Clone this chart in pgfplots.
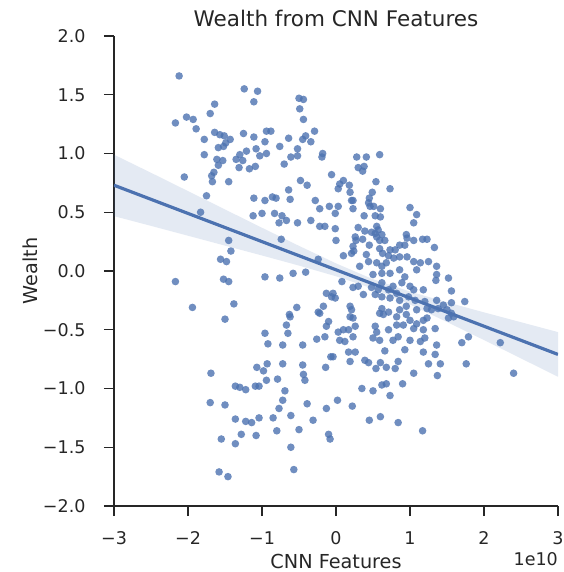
\documentclass[border=0pt]{standalone}
\usepackage{pgfplots}
\pgfplotsset{compat=1.18}
\usepackage{fontspec}
\setmainfont{DejaVu Sans}
\definecolor{sbblue}{HTML}{4C72B0}
\definecolor{sbtext}{HTML}{262626}
\pgfplotstableread{
x y
-2.12 1.66
-1.24 1.55
-1.06 1.53
-1.11 1.44
-1.64 1.42
-1.70 1.34
-2.02 1.31
-1.93 1.29
-2.17 1.26
-1.89 1.21
-0.50 1.47
-0.44 1.46
-0.49 1.38
-0.44 1.29
-1.64 1.18
-1.57 1.16
-1.51 1.15
-1.78 1.12
-1.43 1.12
-1.25 1.17
-1.11 1.14
-0.94 1.19
-0.88 1.19
-0.96 1.10
-0.64 1.13
-0.41 1.15
-0.29 1.19
-0.45 1.12
-0.34 1.10
-1.59 1.05
-1.52 1.06
-1.49 1.09
-1.78 0.99
-1.21 1.02
-1.08 1.04
-1.30 0.99
-1.03 0.98
-0.94 1.00
-0.76 1.06
-0.52 1.04
-0.52 0.98
-0.61 0.97
-1.61 0.95
-1.53 0.94
-1.35 0.95
-1.26 0.94
-1.59 0.90
-1.31 0.88
-1.17 0.87
-1.09 0.89
-0.70 0.91
-1.65 0.84
-1.68 0.81
-2.05 0.80
-1.67 0.76
-1.45 0.76
-0.48 0.77
-0.39 0.73
-1.75 0.64
-1.11 0.62
-0.96 0.60
-0.86 0.63
-0.81 0.62
-0.64 0.69
-0.62 0.61
-0.28 0.60
-1.83 0.50
-1.45 0.26
-1.42 0.17
-1.56 0.10
-1.48 0.08
-2.17 -0.09
-1.52 -0.07
-1.45 -0.09
-1.94 -0.31
-1.38 -0.28
-1.50 -0.41
-0.96 -0.05
-0.76 -0.06
-0.58 -0.02
-0.41 -0.01
-0.74 0.27
-1.12 0.47
-1.00 0.49
-0.83 0.49
-0.73 0.47
-0.77 0.41
-0.67 0.43
-0.52 0.41
-0.34 0.43
-0.24 0.10
-0.53 -0.31
-0.63 -0.37
-0.62 -0.39
-0.67 -0.46
-0.65 -0.53
-0.96 -0.53
-0.92 -0.62
-0.72 -0.63
-0.45 -0.63
-1.69 -0.87
-1.07 -0.82
-0.98 -0.85
-0.93 -0.79
-0.72 -0.79
-0.45 -0.80
-0.44 -0.88
-0.42 -0.93
-0.94 -0.93
-0.79 -0.92
-1.36 -0.98
-1.30 -0.99
-1.22 -1.01
-1.09 -0.98
-1.04 -0.98
-0.69 -1.02
-1.70 -1.12
-1.50 -1.14
-0.72 -1.10
-0.77 -1.17
-0.39 -1.13
-1.36 -1.26
-1.22 -1.28
-1.14 -1.29
-1.04 -1.25
-0.85 -1.25
-0.61 -1.23
-0.31 -1.27
-0.50 -1.35
-0.80 -1.36
-1.55 -1.43
-1.28 -1.39
-1.08 -1.40
-1.36 -1.47
-0.61 -1.50
-0.57 -1.69
-1.58 -1.71
-1.46 -1.75
-0.18 1.00
-0.19 0.97
0.28 0.97
0.41 0.97
0.59 0.99
0.30 0.88
0.38 0.89
0.36 0.85
-0.06 0.82
0.10 0.77
0.05 0.74
0.03 0.70
0.18 0.73
0.19 0.67
0.54 0.76
0.73 0.70
0.49 0.67
0.23 0.60
0.21 0.60
0.45 0.62
0.44 0.58
-0.22 0.53
-0.09 0.55
0.03 0.55
-0.01 0.49
0.23 0.53
0.46 0.55
0.51 0.55
0.60 0.53
1.00 0.54
0.38 0.47
0.53 0.47
0.60 0.46
1.09 0.48
1.05 0.41
-0.22 0.38
-0.15 0.38
-0.01 0.36
0.30 0.37
0.39 0.34
0.55 0.38
0.57 0.35
0.53 0.32
0.48 0.33
0.62 0.31
0.95 0.31
0.96 0.28
1.17 0.27
1.23 0.27
0.00 0.26
0.26 0.29
0.27 0.26
0.36 0.27
0.55 0.29
0.66 0.26
0.59 0.26
0.86 0.22
0.93 0.22
0.80 0.18
1.05 0.26
1.33 0.20
0.23 0.21
0.45 0.22
0.21 0.15
0.24 0.17
0.10 0.13
0.59 0.19
0.63 0.15
0.73 0.18
0.71 0.13
0.78 0.11
0.86 0.12
0.96 0.12
0.41 0.14
0.44 0.08
0.32 0.04
0.55 0.07
0.62 0.04
0.68 0.07
1.05 0.08
1.14 0.07
1.25 0.08
1.36 0.04
0.50 -0.03
0.62 -0.02
0.73 -0.02
0.86 0.01
0.93 -0.05
1.09 0.01
1.36 -0.03
1.35 -0.08
1.52 -0.06
0.08 -0.09
0.23 -0.14
0.30 -0.13
0.48 -0.14
0.57 -0.16
0.62 -0.10
0.71 -0.16
0.77 -0.13
0.89 -0.10
1.00 -0.13
1.05 -0.16
1.18 -0.16
1.56 -0.17
-0.13 -0.19
-0.04 -0.19
-0.01 -0.23
-0.06 -0.22
0.37 -0.20
0.53 -0.20
0.62 -0.22
0.73 -0.23
0.82 -0.19
0.86 -0.25
0.98 -0.22
1.07 -0.25
1.20 -0.26
1.36 -0.25
1.45 -0.29
1.56 -0.27
1.74 -0.26
-0.17 -0.30
0.19 -0.30
0.21 -0.33
0.62 -0.32
0.71 -0.35
0.86 -0.33
0.95 -0.30
1.09 -0.33
1.23 -0.32
1.29 -0.33
1.38 -0.32
1.50 -0.33
1.56 -0.36
-0.24 -0.35
-0.22 -0.36
-0.10 -0.43
0.19 -0.39
0.23 -0.40
0.59 -0.36
0.64 -0.37
0.82 -0.39
0.95 -0.37
1.00 -0.42
1.09 -0.45
1.18 -0.42
1.23 -0.40
1.52 -0.40
1.59 -0.39
-0.13 -0.47
0.03 -0.52
0.10 -0.50
0.17 -0.50
0.26 -0.47
0.53 -0.47
0.55 -0.52
0.71 -0.50
0.82 -0.46
0.91 -0.46
1.05 -0.49
1.18 -0.50
1.34 -0.49
-0.26 -0.58
-0.15 -0.56
0.05 -0.59
0.12 -0.60
0.23 -0.56
0.50 -0.57
0.59 -0.59
0.77 -0.59
0.84 -0.56
1.00 -0.59
1.14 -0.60
1.20 -0.57
1.36 -0.63
1.70 -0.61
1.79 -0.56
2.22 -0.61
1.34 -0.71
-0.07 -0.73
-0.04 -0.73
0.17 -0.69
0.26 -0.69
0.66 -0.68
0.93 -0.67
1.18 -0.69
-0.14 -0.82
0.19 -0.77
0.39 -0.76
0.44 -0.78
0.54 -0.83
0.60 -0.78
0.68 -0.82
0.80 -0.83
0.84 -0.77
1.05 -0.87
1.25 -0.79
1.41 -0.79
1.37 -0.89
1.76 -0.79
2.40 -0.87
0.35 -1.00
0.50 -1.02
0.62 -0.97
0.68 -0.96
0.90 -0.96
0.73 -1.06
-0.13 -1.17
0.02 -1.10
0.22 -1.15
0.45 -1.27
0.60 -1.24
0.84 -1.29
1.17 -1.36
-0.10 -1.39
-0.08 -1.43
}\pts
\begin{document}
\begin{tikzpicture}
\begin{axis}[
  at={(0,0)}, anchor=south west,
  width=444pt, height=470pt, scale only axis,
  xmin=-3, xmax=3, ymin=-2, ymax=2,
  axis x line*=bottom, axis y line*=left,
  axis line style={sbtext, line width=1.5pt},
  tick align=outside, major tick length=10pt,
  tick style={sbtext, line width=1.3pt},
  xtick={-3,-2,-1,0,1,2,3},
  xticklabels={−3,−2,−1,0,1,2,3},
  ytick={-2,-1.5,-1,-0.5,0,0.5,1,1.5,2},
  yticklabels={−2.0,−1.5,−1.0,−0.5,0.0,0.5,1.0,1.5,2.0},
  ticklabel style={font=\fontsize{17.5}{20}\selectfont, text=sbtext},
  xticklabel style={yshift=-12pt},
  yticklabel style={xshift=-15pt},
  title={Wealth from CNN Features},
  title style={font=\fontsize{21.5}{24}\selectfont, text=sbtext, at={(axis description cs:0.5,1)}, anchor=base, yshift=3pt},
  xlabel={CNN Features}, ylabel={Wealth},
  every axis x label/.style={at={(axis description cs:0.5,0)}, anchor=base, yshift=-62pt, font=\fontsize{19.25}{22}\selectfont, text=sbtext},
  every axis y label/.style={at={(axis description cs:-0.189,0.5)}, anchor=center, rotate=90, font=\fontsize{19.25}{22}\selectfont, text=sbtext},
]
\addplot[only marks, color=sbblue, mark=*, mark size=3.8pt, mark options={draw opacity=0, fill=sbblue, fill opacity=0.8}] table[x=x, y=y] {\pts};
\addplot[draw=none, fill=sbblue, fill opacity=0.15] coordinates {
(-3,0.99) (-2.5,0.836) (-2,0.68) (-1.5,0.524) (-1,0.368) (-0.5,0.214) (0,0.065) (0.5,-0.07) (1,-0.175) (1.5,-0.266) (2,-0.352) (2.5,-0.436) (3,-0.52)
(3,-0.90) (2.5,-0.744) (2,-0.588) (1.5,-0.434) (1,-0.285) (0.5,-0.15) (0,-0.045) (-0.5,0.046) (-1,0.132) (-1.5,0.216) (-2,0.30) (-2.5,0.384) (-3,0.467)
} -- cycle;
\addplot[sbblue, line width=3.2pt] coordinates {(-3,0.73) (3,-0.71)};
\end{axis}
\node[anchor=base east, font=\fontsize{17.5}{20}\selectfont, text=sbtext, inner sep=0pt] at (444pt,-59pt) {1e10};
\pgfresetboundingbox
\useasboundingbox (-114pt,-66pt) rectangle (449pt,506pt);
\end{tikzpicture}
\end{document}
